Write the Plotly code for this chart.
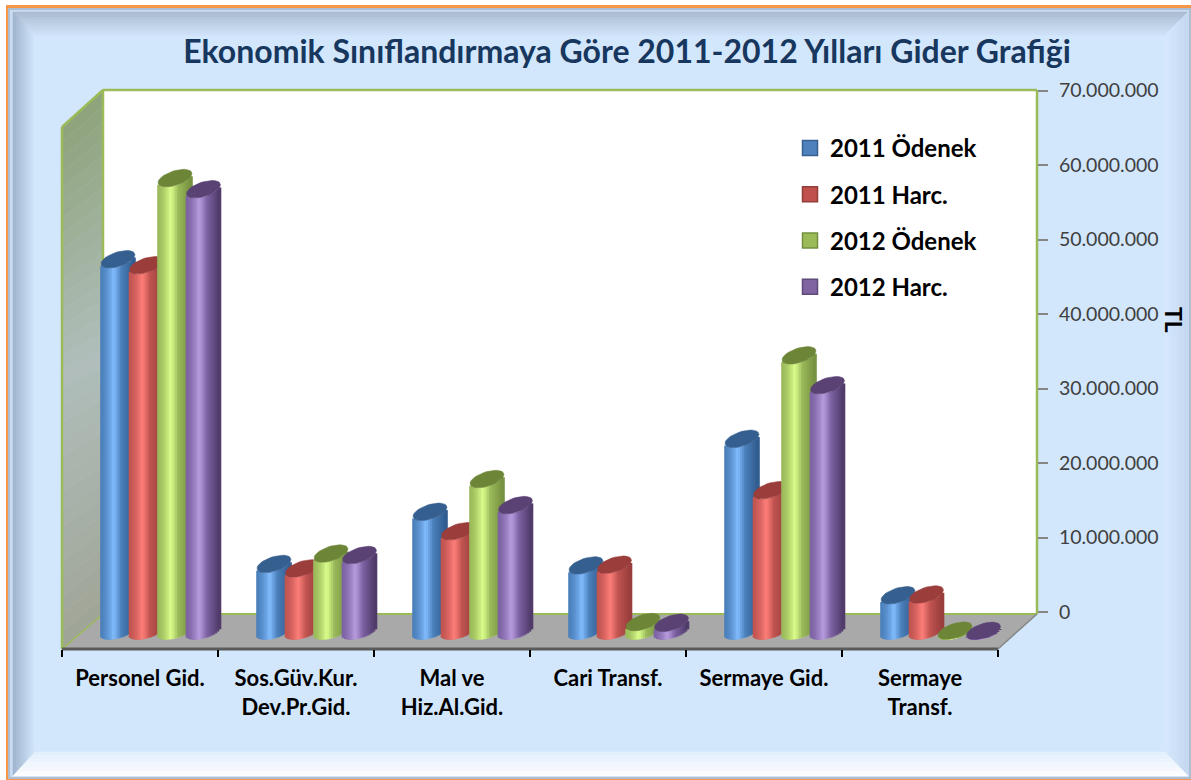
import math

import plotly.graph_objects as go

W, H = 1191, 780

categories = [
    "Personel Gid.",
    "Sos.Güv.Kur.<br>Dev.Pr.Gid.",
    "Mal ve<br>Hiz.Al.Gid.",
    "Cari Transf.",
    "Sermaye Gid.",
    "Sermaye<br>Transf.",
]
series_names = ["2011 Ödenek", "2011 Harc.", "2012 Ödenek", "2012 Harc."]
odenek_2011 = [49900000, 9000000, 16000000, 8800000, 25800000, 4800000]
harc_2011 = [49100000, 8400000, 13400000, 8900000, 18900000, 4900000]
odenek_2012 = [60800000, 10400000, 20400000, 1200000, 37000000, 50000]
harc_2012 = [59300000, 10200000, 16900000, 1100000, 33000000, 20000]
series_values = [odenek_2011, harc_2011, odenek_2012, harc_2012]

y_tick_values = [0, 10000000, 20000000, 30000000, 40000000, 50000000, 60000000, 70000000]
y_tick_labels = ["0", "10.000.000", "20.000.000", "30.000.000", "40.000.000",
                 "50.000.000", "60.000.000", "70.000.000"]

legend_colors = ["#4f81bd", "#c0504d", "#9bbb59", "#8064a2"]
legend_edges = ["#3a6090", "#943c3a", "#74903f", "#5f4a7a"]
cap_colors = ["#345f8f", "#9a3d3b", "#6d8537", "#5a4275"]
body_dark = ["#2f5a8c", "#963c3a", "#748f3e", "#4c3866"]
body_mid = ["#4a7fba", "#c05450", "#9ab95a", "#7d62a3"]
body_light = ["#82bdff", "#ff7f7a", "#dcff8c", "#b89de0"]

# pixel geometry of the fake 3D box
WALL_L, WALL_R, WALL_T, WALL_B = 103, 1037, 90, 614
FRONT_L, FRONT_R, FRONT_Y = 62, 998, 649
ZERO_Y_TICK = 612
ZERO_Y_BAR = 631
PX_PER_UNIT = 74.5 / 10000000
CAT_PX = (FRONT_R - FRONT_L) / 6
BAR_STEP, BAR_W, BAR_INSET = 28.5, 34, 39
CAP_B, CAP_S = 7.5, 4.5
N_SLICES = 17


def hex_rgb(c):
    return [int(c[i:i + 2], 16) for i in (1, 3, 5)]


def mix(a, b, t):
    ca, cb = hex_rgb(a), hex_rgb(b)
    return "rgb(%d,%d,%d)" % tuple(round(x + (y - x) * t) for x, y in zip(ca, cb))


def px(x):
    return x / W


def py(y):
    return 1 - y / H


def poly(points, fill, line=None, width=0):
    path = "M " + " L ".join(f"{px(x):.5f} {py(y):.5f}" for x, y in points) + " Z"
    return dict(type="path", xref="paper", yref="paper", path=path, fillcolor=fill,
                line=dict(color=line or fill, width=width), layer="below")


def seg(x0, y0, x1, y1, color, width):
    return dict(type="line", xref="paper", yref="paper", x0=px(x0), y0=py(y0), x1=px(x1), y1=py(y1),
                line=dict(color=color, width=width), layer="below")


def bevel(outer, inner, color_out, color_in, steps=14):
    # outer and inner are the two edges of one mitred frame side
    bands = []
    for k in range(steps):
        a, b = k / steps, (k + 1) / steps
        p0 = [(o[0] + (i[0] - o[0]) * a, o[1] + (i[1] - o[1]) * a) for o, i in zip(outer, inner)]
        p1 = [(o[0] + (i[0] - o[0]) * b, o[1] + (i[1] - o[1]) * b) for o, i in zip(outer, inner)]
        bands.append(poly([p0[0], p0[1], p1[1], p1[0]], mix(color_out, color_in, (a + b) / 2),
                          width=0.5))
    return bands


shapes = []
# chart frame
FILL = "#d3e7fc"
shapes.append(poly([(6, 5), (W, 5), (W, H), (6, H)], "#f79646"))
shapes.append(poly([(8, 8), (W, 8), (W, 779), (8, 779)], "#aebed2"))
shapes.append(poly([(10, 10), (1189, 10), (1189, 777), (10, 777)], "#c9dcf2"))
shapes.append(poly([(35, 35), (1165, 35), (1165, 752), (35, 752)], FILL))
o_tl, o_tr, o_br, o_bl = (13, 12), (1188, 12), (1188, 776), (13, 776)
i_tl, i_tr, i_br, i_bl = (35, 35), (1165, 35), (1165, 752), (35, 752)
shapes += bevel([o_tl, o_tr], [i_tl, i_tr], "#aabbd0", "#cfe2f8")
shapes += bevel([o_tl, o_bl], [i_tl, i_bl], "#9db2cc", "#d3e7fc")
shapes += bevel([o_tr, o_br], [i_tr, i_br], "#c4d8f0", "#d6e9fd")
shapes += bevel([o_bl, o_br], [i_bl, i_br], "#ffffff", "#e4f0fd")

# back wall, side wall and floor
shapes.append(poly([(WALL_L, WALL_T), (WALL_R, WALL_T), (WALL_R, WALL_B), (WALL_L, WALL_B)], "#ffffff"))
shapes += bevel([(FRONT_L, 127), (WALL_L, WALL_T)], [(FRONT_L, 370), (WALL_L, 350)], "#8ea37a", "#b0bebb", steps=16)
shapes += bevel([(FRONT_L, 370), (WALL_L, 350)], [(FRONT_L, FRONT_Y), (WALL_L, WALL_B)], "#b0bebb", "#a0a596", steps=16)
shapes.append(poly([(WALL_L, WALL_B), (WALL_R, WALL_B), (FRONT_R, FRONT_Y), (FRONT_L, FRONT_Y)], "#a9a9a9"))
shapes.append(seg(WALL_L, WALL_T, WALL_R, WALL_T, "#9bbb59", 2.5))
shapes.append(seg(WALL_R, WALL_T, WALL_R, WALL_B, "#9bbb59", 2.5))
shapes.append(seg(WALL_L, WALL_T, WALL_L, WALL_B, "#9bbb59", 2.5))
shapes.append(seg(WALL_L, WALL_B, WALL_R, WALL_B, "#9bbb59", 2))
shapes.append(seg(FRONT_L, 127, WALL_L, WALL_T, "#9bbb59", 2.5))
shapes.append(seg(FRONT_L, 127, FRONT_L, FRONT_Y, "#9bbb59", 2.5))
shapes.append(seg(FRONT_L, FRONT_Y, WALL_L, WALL_B, "#9bbb59", 1.5))
shapes.append(seg(FRONT_R, FRONT_Y, WALL_R, WALL_B, "#868686", 1.5))
shapes.append(seg(FRONT_L, FRONT_Y, FRONT_R, FRONT_Y, "#5a5a5a", 3))

fig = go.Figure()
x_step = BAR_W / N_SLICES / CAT_PX
cat_positions = list(range(len(categories)))

for i, values in enumerate(series_values):
    centre = (BAR_INSET + BAR_STEP * i + BAR_W / 2) / CAT_PX
    # cylinder body: thin bars, shaded left to right, base follows the lower rim
    for s in range(N_SLICES):
        u = -1 + (2 * s + 1) / N_SLICES
        if u < -0.2:
            color = mix(body_mid[i], body_light[i], ((u + 1) / 0.8) ** 1.6)
        elif u < 0.25:
            color = mix(body_light[i], body_mid[i], (u + 0.2) / 0.45)
        else:
            color = mix(body_mid[i], body_dark[i], (u - 0.25) / 0.75)
        rise = CAP_S * u - CAP_B * (1 - u * u) ** 0.5
        fig.add_trace(go.Bar(
            x=[c + centre + u * BAR_W / 2 / CAT_PX for c in cat_positions],
            y=values,
            base=rise / PX_PER_UNIT,
            width=x_step * 1.8,
            marker=dict(color=color, line=dict(width=0)),
            showlegend=False,
            hoverinfo="skip",
            zorder=i,
        ))
    # top rim of each cylinder
    cap_x, cap_y = [], []
    for c, v in zip(cat_positions, values):
        for k in range(37):
            t = k / 36 * 2 * math.pi
            cap_x.append(c + centre + math.cos(t) * BAR_W / 2 / CAT_PX)
            cap_y.append(v + (CAP_S * math.cos(t) + CAP_B * math.sin(t)) / PX_PER_UNIT)
        cap_x.append(None)
        cap_y.append(None)
    fig.add_trace(go.Scatter(
        x=cap_x, y=cap_y, mode="lines", fill="toself", fillcolor=cap_colors[i],
        line=dict(color=cap_colors[i], width=0.5), showlegend=False, hoverinfo="skip", zorder=i,
    ))

for i, name in enumerate(series_names):
    fig.add_trace(go.Scatter(
        x=[None], y=[None], mode="markers", name=name, legendgroup=name,
        marker=dict(symbol="square", size=15, color=legend_colors[i],
                    line=dict(color=legend_edges[i], width=1.5)),
    ))

# carries the value ticks and the category labels
x_max = (WALL_R - FRONT_L) / CAT_PX
fig.add_trace(go.Scatter(x=[None], y=[None], xaxis="x2", yaxis="y2", showlegend=False, hoverinfo="skip"))

fig.update_layout(
    width=W,
    height=H,
    autosize=False,
    margin=dict(l=0, r=0, t=0, b=0),
    paper_bgcolor="#ffffff",
    plot_bgcolor="rgba(0,0,0,0)",
    barmode="overlay",
    shapes=shapes,
    font=dict(family="Lato"),
    title=dict(
        text="<b>Ekonomik Sınıflandırmaya Göre 2011-2012 Yılları Gider Grafiği</b>",
        x=627 / W, xanchor="center", y=py(52), yanchor="middle",
        font=dict(family="Lato", size=32, color="#17375e"),
    ),
    xaxis=dict(
        domain=[px(FRONT_L), px(WALL_R)], range=[0, x_max], automargin=False,
        tickmode="array", tickvals=list(range(7)), showticklabels=False,
        ticks="outside", ticklen=7, tickwidth=2, tickcolor="#000000",
        showgrid=False, zeroline=False, showline=False,
    ),
    yaxis=dict(
        domain=[py(FRONT_Y), py(WALL_T)], automargin=False,
        range=[(ZERO_Y_BAR - FRONT_Y) / PX_PER_UNIT, (ZERO_Y_BAR - WALL_T) / PX_PER_UNIT],
        visible=False, showgrid=False, zeroline=False,
    ),
    xaxis2=dict(
        overlaying="x", anchor="y2", range=[0, x_max], automargin=False,
        tickmode="array", tickvals=[c + 0.5 for c in cat_positions], ticktext=categories,
        ticks="", ticklabelstandoff=14, tickangle=0,
        tickfont=dict(family="Lato", size=22, color="#000000", weight="bold"),
        showgrid=False, zeroline=False, showline=False,
    ),
    yaxis2=dict(
        overlaying="y", side="right", anchor="free", position=px(WALL_R), automargin=False,
        range=[(ZERO_Y_TICK - FRONT_Y) / PX_PER_UNIT, (ZERO_Y_TICK - WALL_T) / PX_PER_UNIT],
        tickmode="array", tickvals=y_tick_values, ticktext=y_tick_labels,
        ticks="outside", ticklen=10, tickwidth=2, tickcolor="#868686", ticklabelstandoff=7,
        tickfont=dict(family="Lato", size=19.5, color="#404040"),
        showgrid=False, zeroline=False, showline=False,
    ),
    legend=dict(
        x=px(790), y=py(126), xanchor="left", yanchor="top",
        bgcolor="rgba(0,0,0,0)", tracegroupgap=12, itemclick=False, itemdoubleclick=False,
        font=dict(family="Lato", size=24, color="#000000", weight="bold"),
    ),
    annotations=[dict(
        text="<b>TL</b>", x=px(1175), y=py(320), xref="paper", yref="paper", showarrow=False,
        xshift=15, textangle=90, font=dict(family="Lato", size=23, color="#000000"),
    )],
)

fig.write_html("out.html", config={"displayModeBar": False},
               post_script="document.body.style.margin='0';")
